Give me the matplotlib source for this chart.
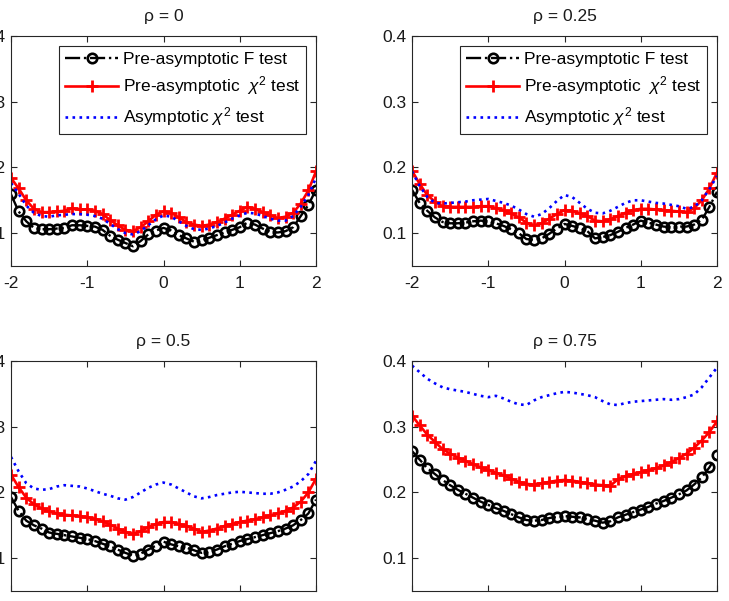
"""
Rejection rates of the pre-asymptotic F / chi^2 tests vs the asymptotic chi^2 test,
for four correlation levels rho.
"""
import numpy as np
import matplotlib.pyplot as plt

plt.rcParams['font.family'] = ['Liberation Sans', 'DejaVu Sans']
plt.rcParams['mathtext.fontset'] = 'custom'
plt.rcParams['mathtext.rm'] = 'Liberation Sans'
plt.rcParams['mathtext.it'] = 'Liberation Sans:italic'
plt.rcParams['axes.unicode_minus'] = False

# ========================================================
# Data
# ========================================================
x = [-2.0, -1.9, -1.8, -1.7, -1.6, -1.5, -1.4, -1.3, -1.2, -1.1,
     -1.0, -0.9, -0.8, -0.7, -0.6, -0.5, -0.4, -0.3, -0.2, -0.1,
     0.0, 0.1, 0.2, 0.3, 0.4, 0.5, 0.6, 0.7, 0.8, 0.9,
     1.0, 1.1, 1.2, 1.3, 1.4, 1.5, 1.6, 1.7, 1.8, 1.9, 2.0]

rho_labels = ['0', '0.25', '0.5', '0.75']

# rho = 0
F_rho0 = [0.159, 0.133, 0.118, 0.108, 0.106, 0.106, 0.107, 0.108, 0.112, 0.112,
          0.111, 0.110, 0.105, 0.096, 0.090, 0.085, 0.080, 0.088, 0.098, 0.104,
          0.108, 0.104, 0.097, 0.092, 0.087, 0.089, 0.093, 0.097, 0.101, 0.105,
          0.109, 0.116, 0.113, 0.107, 0.102, 0.101, 0.103, 0.109, 0.126, 0.143, 0.166]
chi_rho0 = [0.184, 0.168, 0.150, 0.137, 0.132, 0.132, 0.133, 0.134, 0.138, 0.136,
            0.136, 0.134, 0.129, 0.120, 0.112, 0.105, 0.103, 0.109, 0.118, 0.128,
            0.133, 0.131, 0.124, 0.117, 0.113, 0.111, 0.113, 0.117, 0.122, 0.128,
            0.134, 0.140, 0.137, 0.132, 0.127, 0.123, 0.125, 0.131, 0.145, 0.165, 0.194]
asy_rho0 = [0.176, 0.160, 0.142, 0.131, 0.126, 0.125, 0.127, 0.128, 0.129, 0.129,
            0.128, 0.126, 0.122, 0.114, 0.106, 0.100, 0.098, 0.103, 0.112, 0.121,
            0.127, 0.125, 0.118, 0.111, 0.106, 0.105, 0.107, 0.111, 0.116, 0.122,
            0.127, 0.131, 0.130, 0.126, 0.122, 0.119, 0.119, 0.126, 0.140, 0.158, 0.184]

# rho = 0.25
F_rho25 = [0.166, 0.146, 0.134, 0.124, 0.117, 0.115, 0.115, 0.116, 0.118, 0.119,
           0.118, 0.115, 0.111, 0.106, 0.100, 0.091, 0.090, 0.092, 0.099, 0.107,
           0.114, 0.111, 0.108, 0.103, 0.092, 0.094, 0.097, 0.102, 0.108, 0.113,
           0.119, 0.116, 0.113, 0.110, 0.109, 0.110, 0.110, 0.113, 0.120, 0.140, 0.163]
chi_rho25 = [0.195, 0.175, 0.158, 0.148, 0.141, 0.140, 0.140, 0.140, 0.140, 0.141,
             0.141, 0.138, 0.135, 0.130, 0.124, 0.116, 0.112, 0.115, 0.122, 0.129,
             0.135, 0.134, 0.130, 0.126, 0.119, 0.118, 0.121, 0.126, 0.131, 0.135,
             0.137, 0.137, 0.136, 0.135, 0.134, 0.133, 0.132, 0.138, 0.150, 0.168, 0.192]
asy_rho25 = [0.194, 0.172, 0.155, 0.146, 0.145, 0.146, 0.147, 0.148, 0.150, 0.151,
             0.152, 0.149, 0.146, 0.142, 0.136, 0.129, 0.125, 0.129, 0.138, 0.149,
             0.158, 0.155, 0.146, 0.137, 0.131, 0.130, 0.134, 0.140, 0.146, 0.150,
             0.150, 0.148, 0.146, 0.145, 0.143, 0.141, 0.137, 0.140, 0.150, 0.167, 0.187]

# rho = 0.5
F_rho50 = [0.193, 0.172, 0.157, 0.150, 0.145, 0.139, 0.137, 0.135, 0.133, 0.131,
           0.129, 0.126, 0.122, 0.118, 0.113, 0.108, 0.104, 0.107, 0.113, 0.119,
           0.125, 0.121, 0.118, 0.116, 0.112, 0.108, 0.110, 0.113, 0.118, 0.122,
           0.126, 0.129, 0.132, 0.135, 0.138, 0.141, 0.145, 0.150, 0.158, 0.168, 0.189]
chi_rho50 = [0.227, 0.208, 0.192, 0.182, 0.176, 0.171, 0.168, 0.166, 0.165, 0.164,
             0.162, 0.160, 0.156, 0.151, 0.145, 0.140, 0.137, 0.141, 0.147, 0.152,
             0.155, 0.155, 0.152, 0.149, 0.145, 0.140, 0.142, 0.145, 0.149, 0.152,
             0.155, 0.157, 0.159, 0.162, 0.165, 0.168, 0.172, 0.177, 0.186, 0.200, 0.221]
asy_rho50 = [0.254, 0.232, 0.214, 0.206, 0.204, 0.205, 0.209, 0.211, 0.210, 0.209,
             0.206, 0.202, 0.198, 0.195, 0.191, 0.189, 0.193, 0.200, 0.207, 0.212,
             0.215, 0.212, 0.206, 0.200, 0.194, 0.191, 0.193, 0.196, 0.198, 0.200,
             0.201, 0.200, 0.199, 0.198, 0.198, 0.200, 0.204, 0.209, 0.217, 0.228, 0.248]

# rho = 0.75
F_rho75 = [0.263, 0.250, 0.237, 0.228, 0.219, 0.211, 0.204, 0.198, 0.192, 0.186,
           0.181, 0.176, 0.172, 0.167, 0.162, 0.158, 0.157, 0.158, 0.161, 0.163,
           0.164, 0.163, 0.162, 0.159, 0.157, 0.154, 0.156, 0.162, 0.166, 0.170,
           0.174, 0.178, 0.183, 0.187, 0.192, 0.197, 0.203, 0.212, 0.223, 0.238, 0.257]
chi_rho75 = [0.317, 0.302, 0.288, 0.277, 0.266, 0.259, 0.253, 0.248, 0.243, 0.238,
             0.234, 0.230, 0.226, 0.221, 0.216, 0.213, 0.212, 0.214, 0.216, 0.218,
             0.219, 0.218, 0.216, 0.214, 0.212, 0.211, 0.210, 0.220, 0.225, 0.228,
             0.231, 0.234, 0.237, 0.241, 0.246, 0.252, 0.259, 0.268, 0.279, 0.292, 0.308]
asy_rho75 = [0.393, 0.383, 0.373, 0.366, 0.360, 0.357, 0.355, 0.353, 0.350, 0.347,
             0.345, 0.347, 0.343, 0.338, 0.334, 0.333, 0.340, 0.345, 0.348, 0.351,
             0.353, 0.352, 0.350, 0.348, 0.345, 0.339, 0.334, 0.333, 0.336, 0.338,
             0.339, 0.340, 0.341, 0.342, 0.341, 0.342, 0.345, 0.349, 0.360, 0.375, 0.390]

F_all = [F_rho0, F_rho25, F_rho50, F_rho75]
chi_all = [chi_rho0, chi_rho25, chi_rho50, chi_rho75]
asy_all = [asy_rho0, asy_rho25, asy_rho50, asy_rho75]

# ========================================================
# Plot: 2x2 panels, placed to match the (cropped) original
# ========================================================
W, H = 729, 601
fig = plt.figure(figsize=(W / 100, H / 100), dpi=100)

# (left, top) pixel of each axes box
boxes = [(11, 36), (412, 36), (11, 361), (412, 361)]
ax_w, ax_h = 305, 230

axis_col = '#262626'
txt_col = '#1a1a1a'
fs = 12.5
for k, (l, t) in enumerate(boxes):
    ax = fig.add_axes([l / W, 1 - (t + ax_h) / H, ax_w / W, ax_h / H])
    ax.plot(x, F_all[k], 'k-.', marker='o', markersize=6.8, markeredgewidth=1.9,
            markerfacecolor='none', linewidth=1.7, label='Pre-asymptotic F test')
    ax.plot(x, chi_all[k], color='red', linestyle='-', marker='+', markersize=9,
            markeredgewidth=2.0, linewidth=1.9, label=r'Pre-asymptotic  $\chi^2$ test')
    ax.plot(x, asy_all[k], color='blue', linestyle=':', linewidth=1.9,
            label=r'Asymptotic $\chi^2$ test')

    ax.set_xlim(-2, 2)
    ax.set_ylim(0.05, 0.4)
    ax.set_xticks([-2, -1, 0, 1, 2])
    ax.set_yticks([0.1, 0.2, 0.3, 0.4])
    ax.set_yticklabels(['0.1', '0.2', '0.3', '0.4'])
    ax.tick_params(direction='in', top=True, right=True, length=4, width=0.8,
                   labelsize=fs, colors=axis_col, labelcolor=txt_col)
    ax.tick_params(axis='y', pad=4)
    ax.tick_params(axis='x', pad=7)
    if k >= 2:
        # bottom row: x tick labels fall outside the cropped original
        ax.tick_params(axis='x', labelbottom=False)
    for sp in ax.spines.values():
        sp.set_color(axis_col)
        sp.set_linewidth(0.8)
    ax.set_title(f'ρ = {rho_labels[k]}', fontsize=fs, pad=11, color=txt_col)

    if k < 2:
        leg = ax.legend(loc='upper right', fontsize=fs, handlelength=3.0,
                        handletextpad=0.3, labelspacing=0.45, borderpad=0.35,
                        borderaxespad=0.55, fancybox=False, framealpha=1,
                        edgecolor=axis_col)
        leg.get_frame().set_linewidth(0.8)

plt.savefig('out.png', dpi=100)
